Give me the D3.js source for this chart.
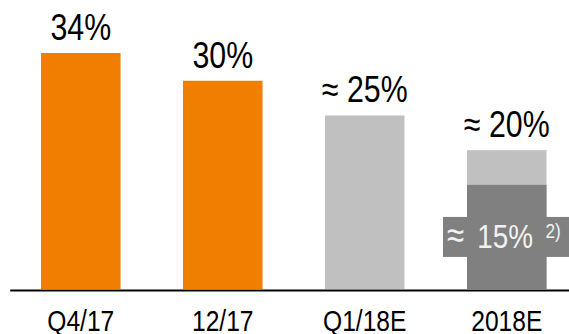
<!DOCTYPE html>
<html>
<head>
<meta charset="utf-8">
<script src="https://cdn.jsdelivr.net/npm/d3@7"></script>
<style>
  html, body { margin: 0; padding: 0; background: #fff; }
  svg { display: block; }
  text { font-family: "Liberation Sans", Arial, sans-serif; font-weight: normal; }
</style>
</head>
<body>
<svg id="chart" width="569" height="334"></svg>
<script>
// Share values per period
const categories = ["Q4/17", "12/17", "Q1/18E", "2018E"];
const values = [34, 30, 25, 20];
const labels = ["34%", "30%", "\u2248 25%", "\u2248 20%"];
const kinds = ["actual", "actual", "estimate", "estimate"];
// Lower part of the 2018E bar
const baseCategory = "2018E";
const baseValue = 15;
const baseApprox = "\u2248";
const baseLabel = "15%";
const baseNote = "2)";

const colors = { actual: "#f07e00", estimate: "#c0c0c0", base: "#808080" };
const narrow = 0.82; // condensed glyph width

const svg = d3.select("#chart");
const baseline = 289;

const x = d3.scaleBand()
  .domain(categories)
  .range([9.75, 577.75])
  .paddingInner(0.44)
  .paddingOuter(0.22);

const y = d3.scaleLinear()
  .domain([0, 34])
  .range([baseline, 53]);

const data = categories.map((c, i) => ({ c, v: values[i], label: labels[i], kind: kinds[i] }));

// Bars
svg.append("g").selectAll("rect")
  .data(data)
  .join("rect")
  .attr("x", d => x(d.c))
  .attr("y", d => y(d.v))
  .attr("width", x.bandwidth())
  .attr("height", d => y(0) - y(d.v))
  .attr("fill", d => colors[d.kind]);

// Darker base segment
svg.append("rect")
  .attr("x", x(baseCategory))
  .attr("y", y(baseValue))
  .attr("width", x.bandwidth())
  .attr("height", y(0) - y(baseValue))
  .attr("fill", colors.base);

// Value labels above bars
svg.append("g").selectAll("text")
  .data(data)
  .join("text")
  .attr("transform", d => `translate(${x(d.c) + x.bandwidth() / 2},${y(d.v) - 13}) scale(${narrow},1)`)
  .attr("text-anchor", "middle")
  .attr("font-size", 37)
  .attr("fill", "#000")
  .text(d => d.label);

// Label on base segment
const bx = x(baseCategory);
const midY = y(baseValue / 2);
svg.append("rect")
  .attr("x", bx - 24)
  .attr("y", midY - 20)
  .attr("width", 569 - (bx - 24))
  .attr("height", 40)
  .attr("fill", colors.base);
const baseText = svg.append("text")
  .attr("transform", `translate(${bx - 20},${midY + 11}) scale(${narrow},1)`)
  .attr("font-size", 34)
  .attr("fill", "#f2f2f2");
baseText.append("tspan")
  .attr("x", 0)
  .attr("font-size", 38)
  .text(baseApprox);
baseText.append("tspan")
  .attr("x", 37)
  .text(baseLabel);
baseText.append("tspan")
  .attr("x", 120)
  .attr("y", -10)
  .attr("font-size", 21)
  .text(baseNote);

// Category axis
const axis = svg.append("g")
  .attr("transform", `translate(0,${baseline + 1})`)
  .call(d3.axisBottom(x).tickSize(0).tickSizeOuter(0));
axis.attr("font-family", null).attr("font-size", null);
axis.select(".domain")
  .attr("stroke", "#000")
  .attr("stroke-width", 2);
axis.selectAll(".tick text")
  .attr("y", 0)
  .attr("dy", null)
  .attr("transform", `translate(0,41) scale(${narrow},1)`)
  .attr("font-size", 30)
  .attr("fill", "#000");
</script>
</body>
</html>
